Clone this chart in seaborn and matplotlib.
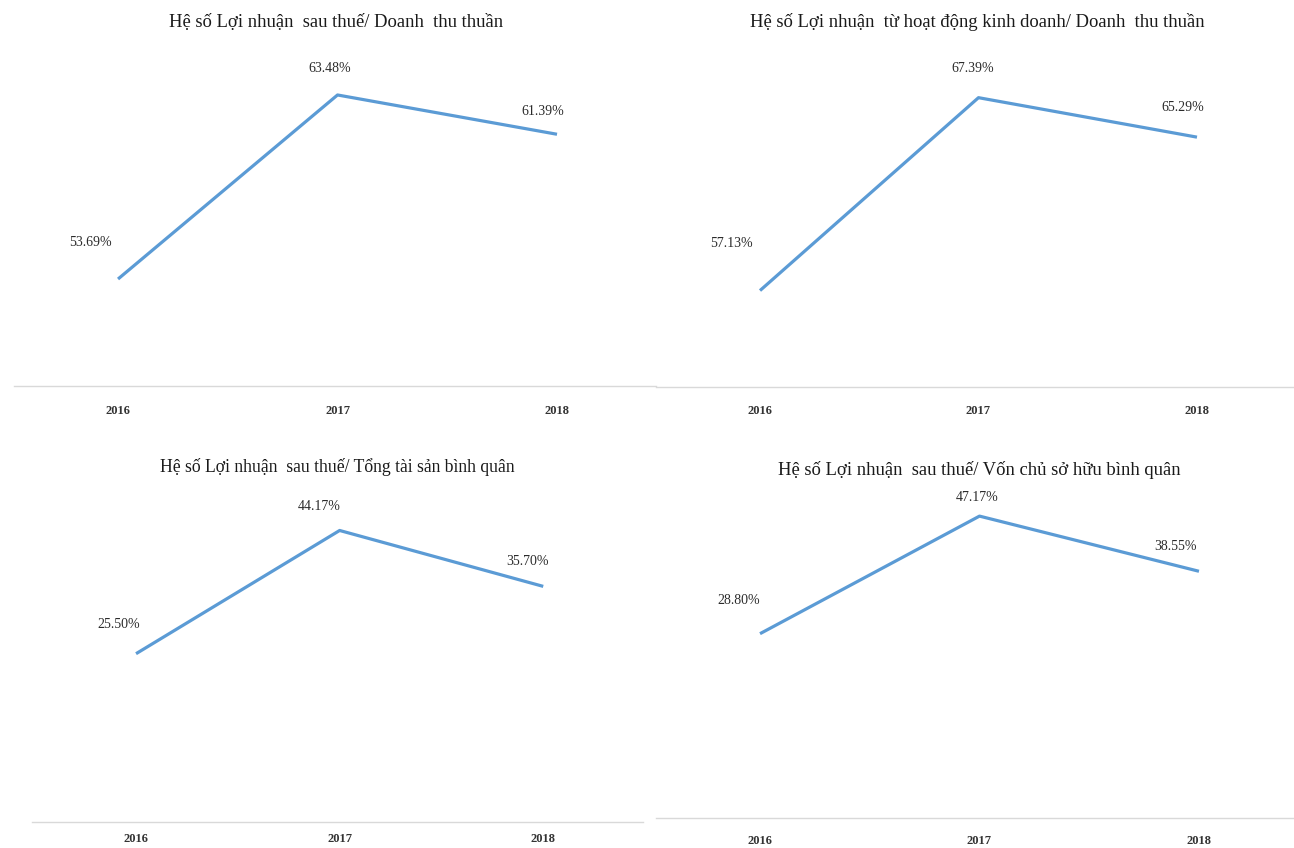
import matplotlib
matplotlib.use("Agg")
import matplotlib.pyplot as plt
import seaborn as sns
import pandas as pd

sns.set_theme(style="white")
plt.rcParams["font.family"] = ["Liberation Serif", "DejaVu Serif"]

# ---- data -------------------------------------------------------------
years = [2016, 2017, 2018]
titles = [
    "Hệ số Lợi nhuận  sau thuế/ Doanh  thu thuần",
    "Hệ số Lợi nhuận  từ hoạt động kinh doanh/ Doanh  thu thuần",
    "Hệ số Lợi nhuận  sau thuế/ Tổng tài sản bình quân",
    "Hệ số Lợi nhuận  sau thuế/ Vốn chủ sở hữu bình quân",
]
ros = [53.69, 63.48, 61.39]          # net profit / net revenue
op_margin = [57.13, 67.39, 65.29]    # operating profit / net revenue
roa = [25.50, 44.17, 35.70]          # net profit / average total assets
roe = [28.80, 47.17, 38.55]          # net profit / average equity
series = [ros, op_margin, roa, roe]

# ---- layout (pixels on a 1294 x 848 canvas) ---------------------------
W, H = 1294, 848
LINE = "#5B9BD5"
# left, right, top, bottom of each plotting area
rects = [(14, 656, 40, 386), (656, 1294, 40, 387),
         (32, 643, 480, 822), (656, 1294, 480, 818)]
xlims = [(-0.474, 2.451), (-0.476, 2.444), (-0.511, 2.49), (-0.474, 2.433)]
ymins = [48.0, 52.0, 0.0, 0.0]
px_per_unit = [18.8, 18.8, 6.6, 6.4]
tick_pads = [14, 13, 8, 12]
title_pos = [(336, 22), (977, 22), (337, 467), (979, 470)]
title_sizes = [13.4, 13.4, 12.7, 13.4]
label_offsets = [
    [(-28, 37), (-8, 26), (-14, 23)],
    [(-29, 47), (-6, 29), (-14, 30)],
    [(-17, 29), (-20, 24), (-16, 25)],
    [(-21, 33), (-2, 19), (-23, 25)],
]

fig = plt.figure(figsize=(W / 100, H / 100), dpi=100)
fig.patch.set_facecolor("white")

for i, vals in enumerate(series):
    l, r, t, b = rects[i]
    ax = fig.add_axes([l / W, 1 - b / H, (r - l) / W, (b - t) / H])
    df = pd.DataFrame({"year": years, "value": vals})
    sns.lineplot(data=df, x="year", y="value", ax=ax, color=LINE,
                 linewidth=2.3, solid_capstyle="butt")

    x0, x1 = xlims[i]
    ax.set_xlim(years[0] + x0, years[0] + x1)
    ax.set_ylim(ymins[i], ymins[i] + (b - t) / px_per_unit[i])

    ax.set_xticks(years)
    ax.set_xticklabels([str(y) for y in years], fontsize=9,
                       fontweight="bold", color="#333333")
    ax.tick_params(axis="x", length=0, pad=tick_pads[i])
    ax.set_yticks([])
    ax.set_xlabel("")
    ax.set_ylabel("")
    for side in ("top", "left", "right"):
        ax.spines[side].set_visible(False)
    ax.spines["bottom"].set_color("#D9D9D9")
    ax.spines["bottom"].set_linewidth(1.0)
    ax.set_facecolor("none")

    for (yr, v), (dx, dy) in zip(zip(years, vals), label_offsets[i]):
        ax.annotate(f"{v:.2f}%", xy=(yr, v), xytext=(dx, dy),
                    textcoords="offset pixels", ha="center", va="center",
                    fontsize=10, color="#2b2b2b", annotation_clip=False)

    tx, ty = title_pos[i]
    fig.text(tx / W, 1 - ty / H, titles[i], ha="center", va="center",
             fontsize=title_sizes[i], color="#1a1a1a")

fig.savefig("out.png", dpi=100, facecolor="white")
